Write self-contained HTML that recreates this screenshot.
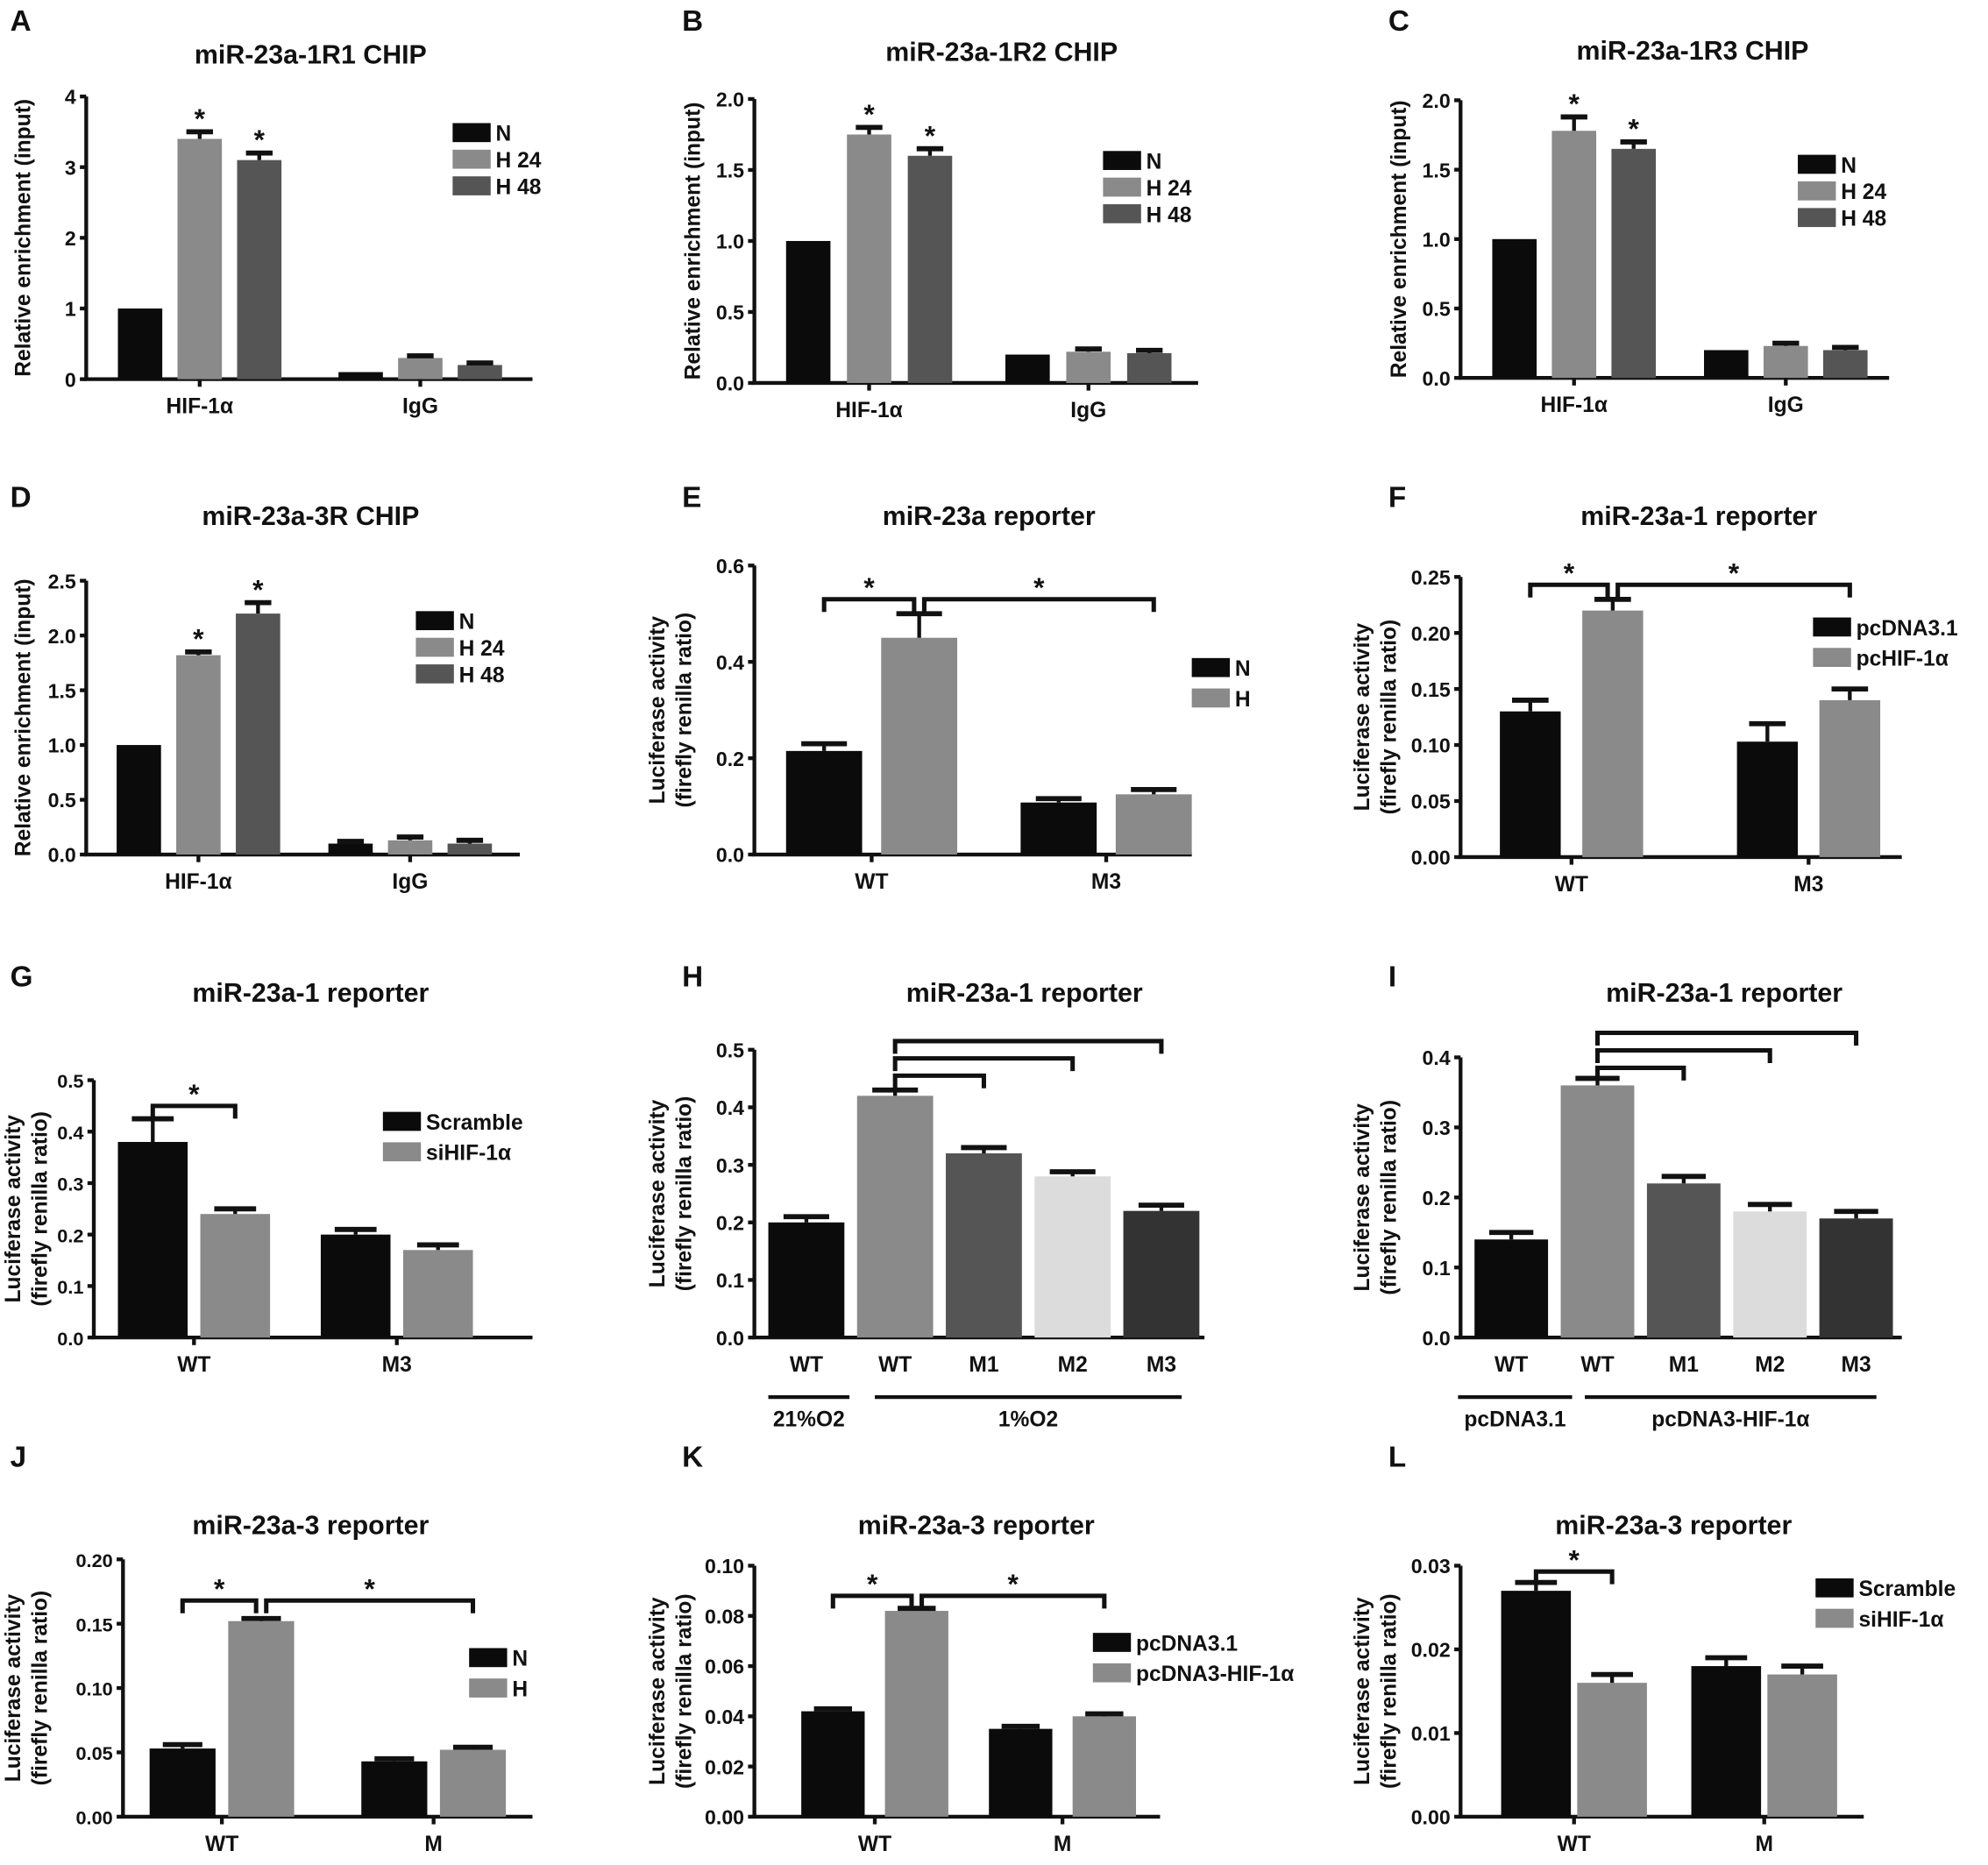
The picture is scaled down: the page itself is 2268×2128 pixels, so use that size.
<!DOCTYPE html>
<html><head><meta charset="utf-8"><style>
html,body{margin:0;padding:0;background:#fff}
svg{display:block}
text{font-family:"Liberation Sans",Arial,sans-serif;font-weight:bold;fill:#111}
</style></head><body>
<svg id="fig" width="2268" height="2128" viewBox="0 0 1568 1471" xmlns="http://www.w3.org/2000/svg"></svg>
<script>
// ---- data arrays ----
const A_groups=['HIF-1α','IgG'];const A_N=[1,0.1];const A_H24=[3.4,0.3];const A_H48=[3.1,0.2];
const A_errN=[0,0];const A_errH24=[0.1,0.03];const A_errH48=[0.1,0.03];const A_ticks=[0,1,2,3,4];
const B_groups=['HIF-1α','IgG'];const B_N=[1,0.2];const B_H24=[1.75,0.22];const B_H48=[1.6,0.21];
const B_errN=[0,0];const B_errH24=[0.05,0.02];const B_errH48=[0.05,0.02];const B_ticks=[0,0.5,1.0,1.5,2.0];
const C_groups=['HIF-1α','IgG'];const C_N=[1,0.2];const C_H24=[1.78,0.23];const C_H48=[1.65,0.2];
const C_errN=[0,0];const C_errH24=[0.1,0.02];const C_errH48=[0.05,0.02];const C_ticks=[0,0.5,1.0,1.5,2.0];
const D_groups=['HIF-1α','IgG'];const D_N=[1,0.1];const D_H24=[1.82,0.13];const D_H48=[2.2,0.1];
const D_errN=[0,0.02];const D_errH24=[0.03,0.03];const D_errH48=[0.1,0.03];const D_ticks=[0,0.5,1.0,1.5,2.0,2.5];
const E_groups=['WT','M3'];const E_N=[0.215,0.108];const E_H=[0.45,0.125];const E_errN=[0.015,0.008];const E_errH=[0.05,0.01];const E_ticks=[0,0.2,0.4,0.6];
const F_groups=['WT','M3'];const F_pc=[0.13,0.103];const F_hif=[0.22,0.14];const F_errPc=[0.01,0.016];const F_errHif=[0.01,0.01];const F_ticks=[0,0.05,0.10,0.15,0.20,0.25];
const G_groups=['WT','M3'];const G_scr=[0.38,0.2];const G_si=[0.24,0.17];const G_errScr=[0.045,0.01];const G_errSi=[0.01,0.01];const G_ticks=[0,0.1,0.2,0.3,0.4,0.5];
const H_labels=['WT','WT','M1','M2','M3'];const H_vals=[0.2,0.42,0.32,0.28,0.22];const H_err=[0.01,0.01,0.01,0.008,0.01];const H_ticks=[0,0.1,0.2,0.3,0.4,0.5];
const I_labels=['WT','WT','M1','M2','M3'];const I_vals=[0.14,0.36,0.22,0.18,0.17];const I_err=[0.01,0.01,0.01,0.01,0.01];const I_ticks=[0,0.1,0.2,0.3,0.4];
const J_groups=['WT','M'];const J_N=[0.053,0.043];const J_H=[0.152,0.052];const J_errN=[0.003,0.002];const J_errH=[0.002,0.002];const J_ticks=[0,0.05,0.10,0.15,0.20];
const K_groups=['WT','M'];const K_pc=[0.042,0.035];const K_hif=[0.082,0.04];const K_errPc=[0.001,0.001];const K_errHif=[0.001,0.001];const K_ticks=[0,0.02,0.04,0.06,0.08,0.10];
const L_groups=['WT','M'];const L_scr=[0.027,0.018];const L_si=[0.016,0.017];const L_errScr=[0.001,0.001];const L_errSi=[0.001,0.001];const L_ticks=[0,0.01,0.02,0.03];

const svg=document.getElementById('fig');const NS='http://www.w3.org/2000/svg';
function mk(tag,attrs,parent,txt){const e=document.createElementNS(NS,tag);for(const k in attrs)e.setAttribute(k,attrs[k]);if(txt!==undefined)e.textContent=txt;(parent||svg).appendChild(e);return e;}
function fmt(v,d){return v.toFixed(d);}
function panel(p){
  const g=mk('g',{});
  
  
  const ymax=p.ticks[p.ticks.length-1];
  const Y=v=>p.y0-(v/ymax)*(p.y0-p.ytop);
  const t1=mk('text',{x:p.lx,y:p.ly,'font-size':23},g,p.id);
  
  const t2=mk('text',{x:p.tx,y:p.ty,'font-size':21,'text-anchor':'middle'},g,p.title);
  
  const yl=mk('text',{transform:`translate(${p.ylx},${(p.y0+p.ytop)/2}) rotate(-90)`,'font-size':17,'text-anchor':'middle'},g);
  
  if(p.ylab2){mk('tspan',{x:0,dy:0},yl,p.ylab);mk('tspan',{x:0,dy:21},yl,p.ylab2);}else yl.textContent=p.ylab;
  const ax=mk('path',{d:`M${p.ox},${Y(ymax)} V${p.y0} H${p.xend}`,stroke:'#111','stroke-width':3,fill:'none'},g);
  
  p.ticks.forEach(t=>{
    mk('line',{x1:p.ox-5,x2:p.ox,y1:Y(t),y2:Y(t),stroke:'#111','stroke-width':3},g);
    const tl=mk('text',{x:p.ox-8,y:Y(t)+6,'font-size':p.tfs||16,'text-anchor':'end'},g,fmt(t,p.dec));
    
  });
  const centers=[];
  p.series.forEach((s,si)=>{
    s.vals.forEach((v,gi)=>{
      const x=p.start+gi*p.gStep+si*p.sStep;
      const col=s.colors?s.colors[gi]:s.color;
      const r=mk('rect',{x:x,y:Y(v),width:p.bw,height:p.y0-Y(v),fill:col},g);
      
      const cx=x+p.bw/2;centers[gi*p.series.length+si]={cx:cx};
      if(s.err[gi]>0){
        mk('line',{x1:cx,x2:cx,y1:Y(v),y2:Y(v+s.err[gi]),stroke:'#111','stroke-width':3},g);
        mk('line',{x1:cx-p.bw*0.3,x2:cx+p.bw*0.3,y1:Y(v+s.err[gi]),y2:Y(v+s.err[gi]),stroke:'#111','stroke-width':4},g);
      }
      if(s.star&&s.star[gi]){const st=mk('text',{x:cx,y:Y(v+s.err[gi])-3,'font-size':22,'text-anchor':'middle'},g,'*');
        }
    });
  });
  p.xlabels.forEach((lab,i)=>{
    let cx;
    if(p.series.length===1){cx=p.start+i*p.gStep+p.bw/2;}
    else{const a=p.start+i*p.gStep,b=a+(p.series.length-1)*p.sStep+p.bw;cx=(a+b)/2;mk('line',{x1:cx,x2:cx,y1:p.y0,y2:p.y0+6,stroke:'#111','stroke-width':3},g);}
    const xl=mk('text',{x:cx,y:p.y0+27,'font-size':17,'text-anchor':'middle'},g,lab);
    
  });
  (p.brackets||[]).forEach(b=>{
    const a=centers[b[0]].cx+(b[4]||0),c=centers[b[1]].cx-(b[5]||0),y=Y(b[2]);
    const br=mk('path',{d:`M${a},${y+10} V${y} H${c} V${y+10}`,stroke:'#111','stroke-width':3.5,fill:'none'},g);
    
    if(b[3]){const st=mk('text',{x:(a+c)/2,y:y-2,'font-size':22,'text-anchor':'middle'},g,'*');
      }
  });
  (p.legend||[]).forEach((l,i)=>{
    const y=p.legY+i*p.legStep;
    const r=mk('rect',{x:p.legX,y:y-8,width:30,height:15,fill:l[1]},g);
    
    const lt=mk('text',{x:p.legX+34,y:y+6,'font-size':17},g,l[0]);
    
  });
  (p.under||[]).forEach(u=>{
    const ln=mk('line',{x1:u[0],x2:u[1],y1:p.y0+47,y2:p.y0+47,stroke:'#111','stroke-width':3},g);
    
    const ut=mk('text',{x:(u[0]+u[1])/2,y:p.y0+70,'font-size':17,'text-anchor':'middle'},g,u[2]);
    
  });
  (p.multi||[]).forEach(pr=>{
    const a=p.start+pr[0]*p.gStep+p.bw/2,c=p.start+pr[1]*p.gStep+p.bw/2,y=Y(pr[2]);
    const m=mk('path',{d:`M${a},${y+10} V${y} H${c} V${y+10}`,stroke:'#111','stroke-width':3.5,fill:'none'},g);
    
  });
}
const BLK='#0b0b0b',G1='#8a8a8a',G2='#555',G3='#dcdcdc',G4='#333';
const chipY='Relative enrichment (input)',luc1='Luciferase activity',luc2='(firefly renilla ratio)';
const chipLeg=[['N',BLK],['H 24',G1],['H 48',G2]];
const multiCols=[BLK,G1,G2,G3,G4];
const H_pairs=[[1,2,0.455],[1,3,0.485],[1,4,0.515]];
const I_pairs=[[1,2,0.385],[1,3,0.41],[1,4,0.435]];
panel({id:'A',lx:8,ly:24,tx:245,ty:50,title:'miR-23a-1R1 CHIP',ylab:chipY,ylx:24,ox:68,y0:299,ytop:76,xend:420,ticks:A_ticks,dec:0,
 start:93,gStep:174,sStep:47,bw:35,xlabels:A_groups,
 series:[{name:'n',vals:A_N,err:A_errN,color:BLK},{name:'h24',vals:A_H24,err:A_errH24,color:G1,star:[1,0]},{name:'h48',vals:A_H48,err:A_errH48,color:G2,star:[1,0]}],
 legend:chipLeg,legX:357,legY:105,legStep:21});
panel({id:'B',lx:538,ly:24,tx:790,ty:48,title:'miR-23a-1R2 CHIP',ylab:chipY,ylx:552,ox:595,y0:302,ytop:78,xend:945,ticks:B_ticks,dec:1,
 start:620,gStep:173,sStep:48,bw:35,xlabels:B_groups,
 series:[{name:'n',vals:B_N,err:B_errN,color:BLK},{name:'h24',vals:B_H24,err:B_errH24,color:G1,star:[1,0]},{name:'h48',vals:B_H48,err:B_errH48,color:G2,star:[1,0]}],
 legend:chipLeg,legX:870,legY:127,legStep:21});
panel({id:'C',lx:1095,ly:24,tx:1335,ty:47,title:'miR-23a-1R3 CHIP',ylab:chipY,ylx:1109,ox:1152,y0:298,ytop:79,xend:1490,ticks:C_ticks,dec:1,
 start:1177,gStep:167,sStep:47,bw:35,xlabels:C_groups,
 series:[{name:'n',vals:C_N,err:C_errN,color:BLK},{name:'h24',vals:C_H24,err:C_errH24,color:G1,star:[1,0]},{name:'h48',vals:C_H48,err:C_errH48,color:G2,star:[1,0]}],
 legend:chipLeg,legX:1418,legY:130,legStep:21});
panel({id:'D',lx:8,ly:400,tx:245,ty:414,title:'miR-23a-3R CHIP',ylab:chipY,ylx:24,ox:68,y0:674,ytop:458,xend:410,ticks:D_ticks,dec:1,
 start:92,gStep:167,sStep:47,bw:35,xlabels:D_groups,
 series:[{name:'n',vals:D_N,err:D_errN,color:BLK},{name:'h24',vals:D_H24,err:D_errH24,color:G1,star:[1,0]},{name:'h48',vals:D_H48,err:D_errH48,color:G2,star:[1,0]}],
 legend:chipLeg,legX:328,legY:490,legStep:21});
panel({id:'E',lx:538,ly:400,tx:780,ty:414,title:'miR-23a reporter',ylab:luc1,ylab2:luc2,ylx:524,ox:595,y0:674,ytop:446,xend:940,ticks:E_ticks,dec:1,
 start:620,gStep:185,sStep:75,bw:60,xlabels:E_groups,
 series:[{name:'n',vals:E_N,err:E_errN,color:BLK},{name:'h',vals:E_H,err:E_errH,color:G1}],
 brackets:[[0,1,0.53,1,0,4],[1,3,0.53,1,4,0]],legend:[['N',BLK],['H',G1]],legX:940,legY:527,legStep:24});
panel({id:'F',lx:1095,ly:400,tx:1340,ty:414,title:'miR-23a-1 reporter',ylab:luc1,ylab2:luc2,ylx:1080,ox:1152,y0:676,ytop:455,xend:1500,ticks:F_ticks,dec:2,
 start:1183,gStep:187,sStep:65,bw:48,xlabels:F_groups,
 series:[{name:'pcdna',vals:F_pc,err:F_errPc,color:BLK},{name:'pchif',vals:F_hif,err:F_errHif,color:G1}],
 brackets:[[0,1,0.243,1,0,4],[1,3,0.243,1,4,0]],legend:[['pcDNA3.1',BLK],['pcHIF-1α',G1]],legX:1430,legY:495,legStep:24});
panel({id:'G',lx:8,ly:778,tx:245,ty:790,title:'miR-23a-1 reporter',ylab:luc1,ylab2:luc2,ylx:16,ox:74,tfs:15,y0:1055,ytop:852,xend:420,ticks:G_ticks,dec:1,
 start:93,gStep:160,sStep:65,bw:55,xlabels:G_groups,
 series:[{name:'scramble',vals:G_scr,err:G_errScr,color:BLK},{name:'sihif',vals:G_si,err:G_errSi,color:G1}],
 brackets:[[0,1,0.45,1]],legend:[['Scramble',BLK],['siHIF-1α',G1]],legX:302,legY:885,legStep:24});
panel({id:'H',lx:538,ly:778,tx:808,ty:790,title:'miR-23a-1 reporter',ylab:luc1,ylab2:luc2,ylx:524,ox:595,y0:1055,ytop:828,xend:950,ticks:H_ticks,dec:1,
 start:606,gStep:70,sStep:0,bw:60,xlabels:H_labels,
 series:[{name:'hyp',vals:H_vals,err:H_err,colors:multiCols}],
 multi:H_pairs,under:[[606,670,'21%O2'],[690,932,'1%O2']]});
panel({id:'I',lx:1095,ly:778,tx:1360,ty:790,title:'miR-23a-1 reporter',ylab:luc1,ylab2:luc2,ylx:1080,ox:1152,y0:1055,ytop:834,xend:1500,ticks:I_ticks,dec:1,
 start:1163,gStep:68,sStep:0,bw:58,xlabels:I_labels,
 series:[{name:'ovx',vals:I_vals,err:I_err,colors:multiCols}],
 multi:I_pairs,under:[[1150,1240,'pcDNA3.1'],[1250,1480,'pcDNA3-HIF-1α']]});
panel({id:'J',lx:8,ly:1157,tx:245,ty:1210,title:'miR-23a-3 reporter',ylab:luc1,ylab2:luc2,ylx:16,ox:97,tfs:15,y0:1433,ytop:1230,xend:420,ticks:J_ticks,dec:2,
 start:118,gStep:167,sStep:62,bw:52,xlabels:J_groups,
 series:[{name:'n',vals:J_N,err:J_errN,color:BLK},{name:'h',vals:J_H,err:J_errH,color:G1}],
 brackets:[[0,1,0.168,1,0,4],[1,3,0.168,1,4,0]],legend:[['N',BLK],['H',G1]],legX:370,legY:1308,legStep:24});
panel({id:'K',lx:538,ly:1157,tx:770,ty:1210,title:'miR-23a-3 reporter',ylab:luc1,ylab2:luc2,ylx:524,ox:595,y0:1433,ytop:1235,xend:915,ticks:K_ticks,dec:2,
 start:632,gStep:148,sStep:66,bw:50,xlabels:K_groups,
 series:[{name:'pcdna',vals:K_pc,err:K_errPc,color:BLK},{name:'pchif',vals:K_hif,err:K_errHif,color:G1}],
 brackets:[[0,1,0.088,1,0,4],[1,3,0.088,1,4,0]],legend:[['pcDNA3.1',BLK],['pcDNA3-HIF-1α',G1]],legX:862,legY:1296,legStep:24});
panel({id:'L',lx:1095,ly:1157,tx:1320,ty:1210,title:'miR-23a-3 reporter',ylab:luc1,ylab2:luc2,ylx:1080,ox:1152,y0:1433,ytop:1235,xend:1470,ticks:L_ticks,dec:2,
 start:1184,gStep:150,sStep:60,bw:55,xlabels:L_groups,
 series:[{name:'scramble',vals:L_scr,err:L_errScr,color:BLK},{name:'sihif',vals:L_si,err:L_errSi,color:G1}],
 brackets:[[0,1,0.0293,1]],legend:[['Scramble',BLK],['siHIF-1α',G1]],legX:1432,legY:1253,legStep:24});
</script>
</body></html>
